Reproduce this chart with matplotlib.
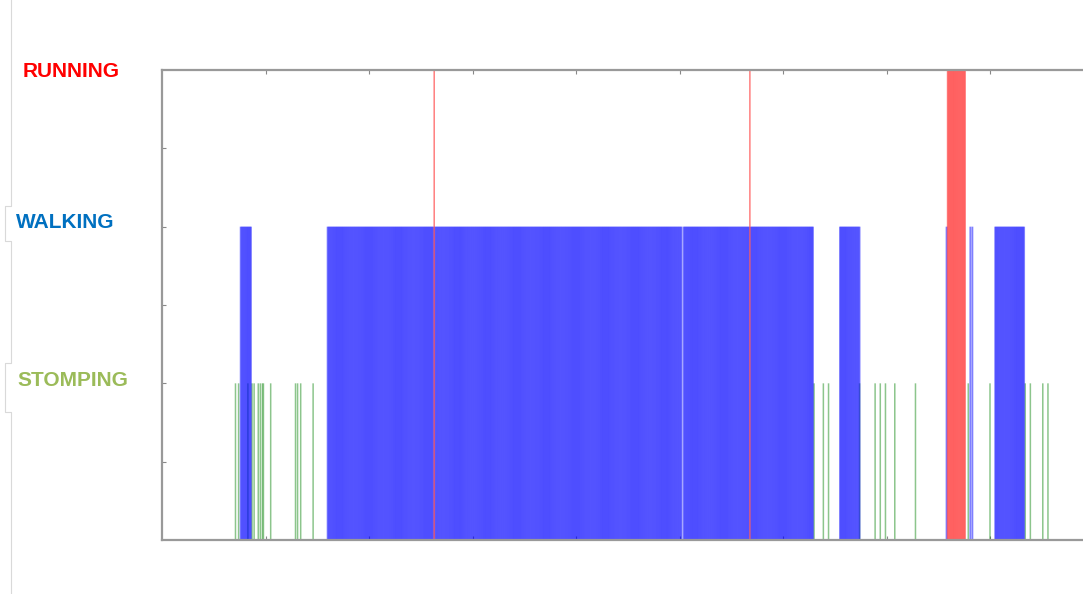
import numpy as np
import matplotlib
matplotlib.use("Agg")
import matplotlib.pyplot as plt
from matplotlib.lines import Line2D

# activity classes (y level) and label colours
classes = ["STOMPING", "WALKING", "RUNNING"]
levels = [1, 2, 3]
label_colors = ["#9BBB59", "#0070C0", "#FF0000"]

# samples labelled STOMPING
stomping = [71, 74, 83, 87, 89, 93, 95, 97, 98, 105, 129, 131, 134, 146,
            630, 639, 644, 674, 689, 694, 699, 708, 728, 779, 800,
            834, 839, 851, 856]

# runs of samples labelled WALKING (start, end inclusive)
walking_runs = [(76, 86), (160, 262), (264, 502),
                (504, 567), (569, 629), (655, 674), (758, 758),
                (781, 781), (783, 783), (805, 833)]

# samples labelled RUNNING (single ones plus one run)
running_single = [263, 568]
running_runs = [(759, 776)]

walking = np.concatenate([np.arange(a, b + 1) for a, b in walking_runs])
running = np.concatenate([running_single] +
                         [np.arange(a, b + 1) for a, b in running_runs])

fig = plt.figure(figsize=(10.83, 5.94), dpi=100)
ax = fig.add_axes([162 / 1083, 54 / 594, 930 / 1083, 470 / 594])

ax.vlines(stomping, 0, 1, colors="green", alpha=0.45, linewidth=1.1,
          snap=False)
ax.vlines(walking, 0, 2, colors="blue", alpha=0.5, linewidth=1.3,
          snap=False)
ax.vlines(running, 0, 3, colors="red", alpha=0.5, linewidth=1.1,
          snap=False)

ax.set_xlim(0, 930 / 1.035)
ax.set_ylim(0, 3)
ax.set_xticks(np.arange(100, 900, 100))
ax.set_yticks(np.arange(0.5, 3.0, 0.5))
ax.tick_params(direction="in", length=3, width=0.8, color="#888888",
               top=True, labelbottom=False, labelleft=False)
for s in ["left", "bottom", "top"]:
    ax.spines[s].set_color("#999999")
    ax.spines[s].set_linewidth(1.6)
ax.spines["right"].set_visible(False)

# class names to the left of the plot
label_y = [380.7, 222.7, 71.7]
label_x = [72.5, 65.5, 71]
for name, c, x, y in zip(classes, label_colors, label_x, label_y):
    fig.text(x / 1083, 1 - y / 594, name, color=c, fontsize=15,
             fontweight="bold", family="Liberation Sans",
             ha="center", va="center")

# thin gray guide on the far left with notches around two labels
px = [11, 11, 5, 5, 11, 11, 5, 5, 11, 11]
py = [0, 206, 206, 241, 241, 363, 363, 412, 412, 594]
fig.add_artist(Line2D([x / 1083 for x in px], [1 - y / 594 for y in py],
                      color="#d9d9d9", linewidth=0.8,
                      transform=fig.transFigure))

plt.savefig("out.png", dpi=100)
